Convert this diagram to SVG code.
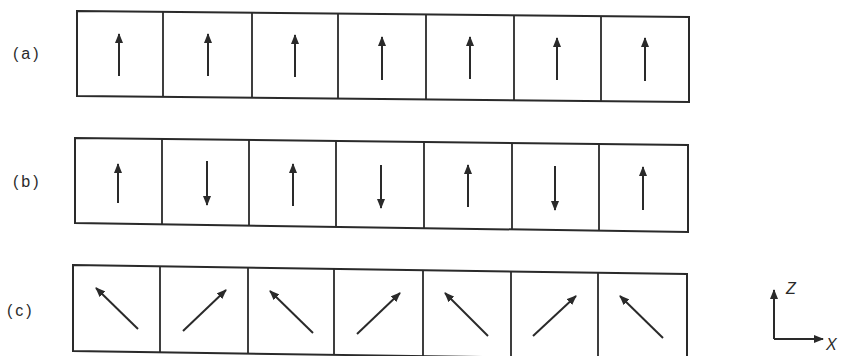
<svg xmlns="http://www.w3.org/2000/svg" width="843" height="356" viewBox="0 0 843 356">
<defs>
<marker id="ah" viewBox="0 0 10 8" refX="9" refY="4" markerWidth="10" markerHeight="8" markerUnits="userSpaceOnUse" orient="auto">
<path d="M0,0 L10,4 L0,8 Z" fill="#2a2a2a"/>
</marker>
</defs>
<style>
.box{fill:none;stroke:#2a2a2a;stroke-width:2}
.div{stroke:#2a2a2a;stroke-width:1.8}
.arr{stroke:#2a2a2a;stroke-width:2;marker-end:url(#ah)}
.lbl{font-family:"Liberation Sans",Arial,sans-serif;font-size:16px;fill:#2a2a2a;letter-spacing:3px}
.ax{font-family:"Liberation Sans",Arial,sans-serif;font-size:16px;font-style:italic;fill:#2a2a2a}
</style>
<rect width="843" height="356" fill="#ffffff"/>
<g id="row-a">
<text class="lbl" x="13" y="59">(a)</text>
<polygon class="box" points="77,11 689,17 689,102 77,96"/>
<line class="div" x1="163" y1="12" x2="163" y2="97"/>
<line class="div" x1="252" y1="13" x2="252" y2="98"/>
<line class="div" x1="338" y1="14" x2="338" y2="99"/>
<line class="div" x1="426" y1="15" x2="426" y2="100"/>
<line class="div" x1="514" y1="15" x2="514" y2="101"/>
<line class="div" x1="601" y1="16" x2="601" y2="101"/>
<line class="arr" x1="119" y1="76" x2="119" y2="34"/>
<line class="arr" x1="208" y1="76" x2="208" y2="34"/>
<line class="arr" x1="295" y1="77" x2="295" y2="35"/>
<line class="arr" x1="382" y1="80" x2="382" y2="37"/>
<line class="arr" x1="470" y1="79" x2="470" y2="37"/>
<line class="arr" x1="557" y1="80" x2="557" y2="38"/>
<line class="arr" x1="645" y1="81" x2="645" y2="38"/>
</g>
<g id="row-b">
<text class="lbl" x="13" y="187">(b)</text>
<polygon class="box" points="75,138 688,145 688,232 75,223"/>
<line class="div" x1="162" y1="139" x2="162" y2="224"/>
<line class="div" x1="249" y1="140" x2="249" y2="225"/>
<line class="div" x1="336" y1="141" x2="336" y2="226"/>
<line class="div" x1="424" y1="142" x2="424" y2="228"/>
<line class="div" x1="512" y1="143" x2="512" y2="229"/>
<line class="div" x1="599" y1="144" x2="599" y2="230"/>
<line class="arr" x1="118" y1="203" x2="118" y2="164"/>
<line class="arr" x1="207" y1="161" x2="207" y2="205"/>
<line class="arr" x1="293" y1="206" x2="293" y2="164"/>
<line class="arr" x1="381" y1="165" x2="381" y2="208"/>
<line class="arr" x1="468" y1="207" x2="468" y2="165"/>
<line class="arr" x1="555" y1="166" x2="555" y2="210"/>
<line class="arr" x1="643" y1="210" x2="643" y2="167"/>
</g>
<g id="row-c">
<text class="lbl" x="7" y="316">(c)</text>
<polygon class="box" points="73,265 687,274 687,360 73,351"/>
<line class="div" x1="160" y1="266" x2="160" y2="352"/>
<line class="div" x1="248" y1="267" x2="248" y2="353"/>
<line class="div" x1="334" y1="268" x2="334" y2="354"/>
<line class="div" x1="423" y1="270" x2="423" y2="356"/>
<line class="div" x1="511" y1="271" x2="511" y2="357"/>
<line class="div" x1="598" y1="272" x2="598" y2="358"/>
<line class="arr" x1="138" y1="329" x2="96" y2="288"/>
<line class="arr" x1="183" y1="331" x2="226" y2="290"/>
<line class="arr" x1="313" y1="333" x2="270" y2="291"/>
<line class="arr" x1="357" y1="334" x2="400" y2="293"/>
<line class="arr" x1="488" y1="336" x2="445" y2="293"/>
<line class="arr" x1="533" y1="336" x2="576" y2="296"/>
<line class="arr" x1="663" y1="338" x2="620" y2="296"/>
</g>
<g id="axes">
<line class="arr" x1="774" y1="339" x2="774" y2="290"/>
<line class="arr" x1="774" y1="339" x2="823" y2="339"/>
<text class="ax" x="786" y="294">Z</text>
<text class="ax" x="826" y="350">X</text>
</g>
</svg>
